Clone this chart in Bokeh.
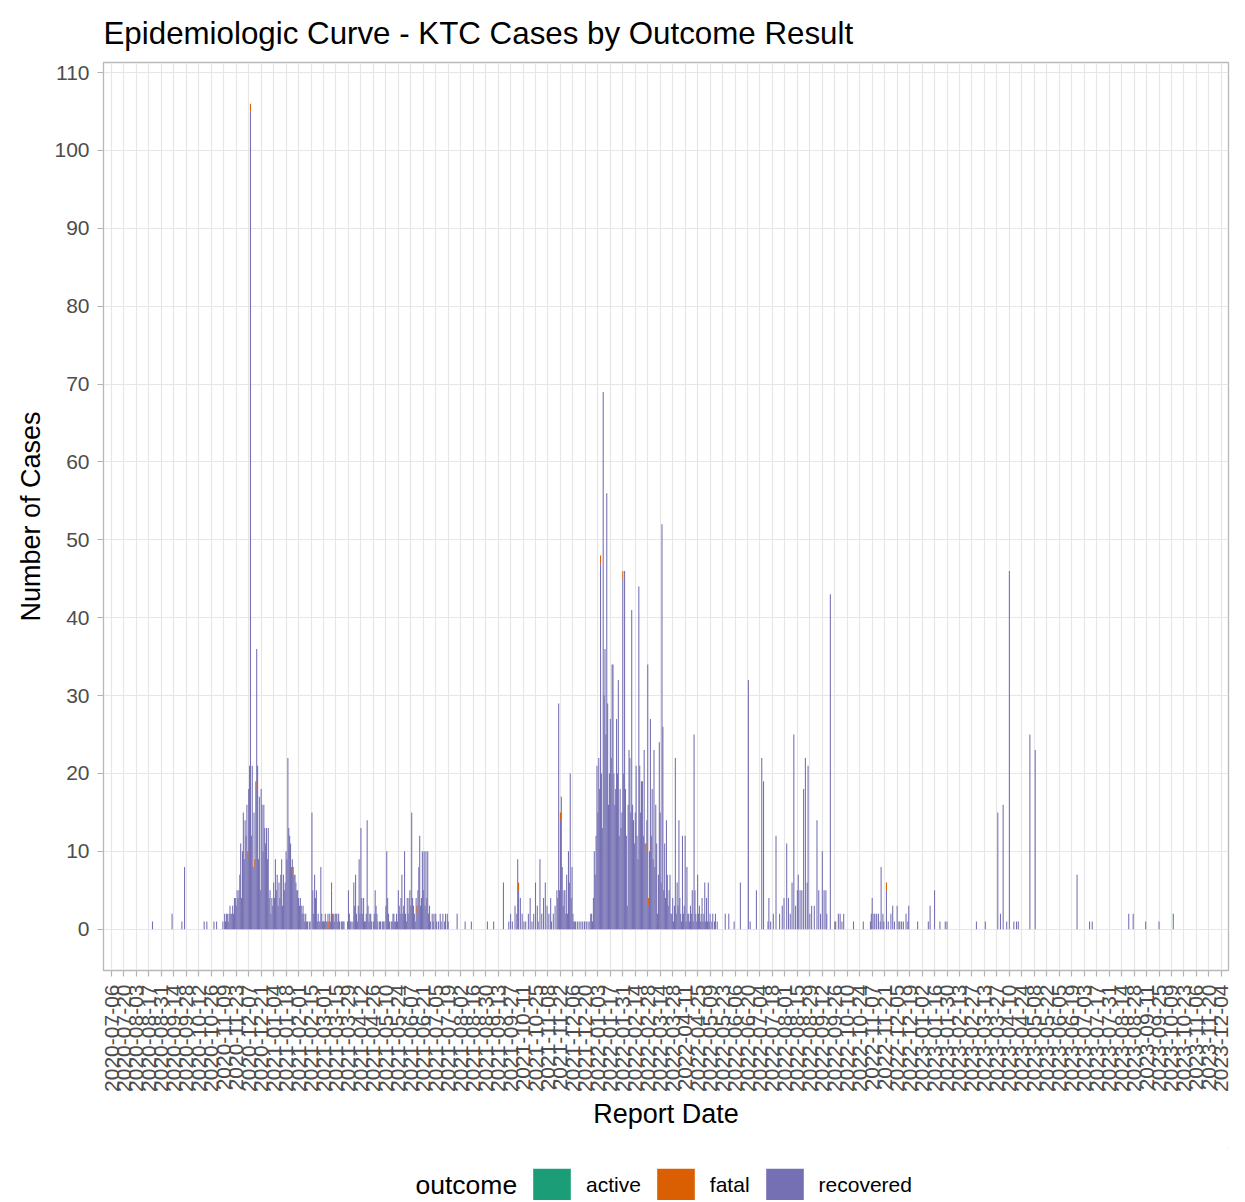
import math
import pandas as pd
from bokeh.plotting import figure
from bokeh.layouts import column
from bokeh.models import (ColumnDataSource, FixedTicker, DatetimeTickFormatter,
                          Legend, LegendItem, Range1d, Label)
from bokeh.embed import file_html
from bokeh.resources import INLINE

# ---------------- data ----------------
title_text = "Epidemiologic Curve - KTC Cases by Outcome Result"
legend_title = "outcome"
outcomes = ["active", "fatal", "recovered"]
outcome_colors = ["#1B9E77", "#D95F02", "#7570B3"]

early_dates = ["2020-08-21", "2020-09-12", "2020-09-23", "2020-09-26",
               "2020-10-18", "2020-10-21", "2020-10-29", "2020-11-01"]
early_recovered = [1, 2, 1, 8, 1, 1, 1, 1]

wave1_start = "2020-11-08"
wave1_recovered = [
    1, 0, 2, 1, 2, 2, 1, 2, 3, 2,
    2, 3, 2, 4, 4, 3, 5, 4, 5, 7,
    11, 3, 10, 15, 9, 14, 12, 16, 9, 18,
    21, 105, 12, 21, 8, 15, 8, 18, 36, 21,
    9, 17, 5, 18, 16, 10, 16, 13, 11, 13,
    9, 13, 4, 5, 2, 4, 3, 6, 4, 9,
    5, 7, 3, 6, 4, 7, 9, 3, 7, 5,
    6, 10, 9, 22, 13, 12, 11, 8, 9, 7,
    7, 7, 6, 5, 5, 4, 3, 4, 3, 2,
    3, 2, 1, 2, 1, 1, 0, 1, 1, 0,
    15, 5, 2, 7, 4, 5, 1, 2, 1, 1,
    8, 2, 1, 1, 1, 2, 1, 1, 2, 0,
    2, 1, 5, 2, 1, 1, 2, 2, 2, 1,
    2, 1, 0, 1, 1, 1, 1, 0, 0, 0,
    1, 5, 2, 1, 1, 0, 1, 6, 3, 7,
    2, 1, 3, 9, 2, 13, 4, 2, 4, 1,
    1, 2, 14, 3, 1, 2, 2, 1, 0, 1,
    2, 5, 3, 2, 1, 0, 1, 1, 0, 1,
    1, 1, 0, 3, 10, 4, 2, 1, 0, 1,
    1, 2, 2, 1, 1, 2, 1, 5, 3, 2,
    4, 7, 2, 3, 10, 2, 1, 4, 2, 4,
    5, 3, 15, 4, 3, 2, 1, 4, 2, 5,
    8, 12, 3, 4, 10, 5, 10, 3, 10, 4,
    10, 2, 3, 1, 0, 2, 1, 2, 0, 2,
    1, 0, 1, 0, 2, 1, 0, 2, 0, 1,
    2, 0, 2, 1, 0, 0,
]

mid_dates = ["2021-07-29", "2021-08-07", "2021-08-14"]
mid_recovered = [2, 1, 1]

wave2_start = "2021-08-30"
wave2_recovered = [
    0, 0, 1, 0, 0, 0, 0, 0, 0, 1,
    0, 0, 0, 0, 0, 0, 0, 0, 0, 0,
    6, 0, 0, 0, 0, 0, 1, 0, 2, 0,
    1, 0, 0, 3, 0, 2, 9, 5, 0, 4,
    0, 2, 0, 1, 0, 1, 0, 0, 2, 0,
    4, 0, 1, 0, 2, 0, 6, 0, 3, 1,
    0, 9, 0, 2, 0, 4, 0, 6, 0, 3,
    0, 2, 0, 4, 1, 0, 2, 0, 3, 0,
    5, 4, 29, 5, 14, 17, 8, 3, 5, 5,
    2, 7, 2, 10, 6, 20, 4, 8, 2, 1,
    1, 1, 0, 1, 0, 1, 0, 1, 0, 1,
    0, 1, 0, 1, 0, 1, 0, 1, 2, 2,
    1, 4, 10, 7, 12, 21, 15, 22, 18, 47,
    20, 13, 69, 30, 36, 25, 56, 29, 16, 20,
    27, 22, 34, 34, 20, 16, 18, 27, 20, 32,
    12, 18, 13, 15, 45, 20, 46, 18, 12, 3,
    16, 23, 22, 15, 41, 16, 14, 11, 15, 21,
    12, 9, 44, 21, 15, 19, 19, 12, 23, 11,
    10, 14, 34, 3, 10, 27, 12, 18, 9, 23,
    8, 16, 11, 1, 7, 24, 15, 6, 52, 26,
    5, 11, 4, 14, 7, 3, 5, 7, 2, 2,
    4, 1, 3, 22, 2, 6, 3, 14, 4, 2,
    1, 12, 2, 3, 12, 1, 8, 2, 2, 1,
    3, 2, 5, 1, 25, 5, 2, 1, 6, 2,
    3, 1, 2, 4, 1, 2, 6, 1, 4, 1,
    6, 1, 2, 0, 1, 2, 0, 1, 2, 0,
    1, 0, 0, 0, 0, 0, 0, 0, 0, 2,
    0, 0, 0, 2, 0, 0, 0, 0, 0, 1,
    0,
]

late_dates = [
    "2022-06-12", "2022-06-21", "2022-06-23", "2022-06-30", "2022-07-06",
    "2022-07-08", "2022-07-13", "2022-07-14", "2022-07-16", "2022-07-19",
    "2022-07-22", "2022-07-26", "2022-07-29", "2022-07-31", "2022-08-03",
    "2022-08-05", "2022-08-07", "2022-08-09", "2022-08-11", "2022-08-13",
    "2022-08-15", "2022-08-16", "2022-08-18", "2022-08-20", "2022-08-22",
    "2022-08-24", "2022-08-26", "2022-08-27", "2022-08-29", "2022-08-31",
    "2022-09-03", "2022-09-06", "2022-09-08", "2022-09-10", "2022-09-12",
    "2022-09-14", "2022-09-16", "2022-09-17", "2022-09-21", "2022-09-26",
    "2022-09-30", "2022-10-02", "2022-10-04", "2022-10-06", "2022-10-17",
    "2022-10-28", "2022-11-05", "2022-11-06", "2022-11-07", "2022-11-09",
    "2022-11-10", "2022-11-12", "2022-11-14", "2022-11-16", "2022-11-17",
    "2022-11-19", "2022-11-20", "2022-11-23", "2022-11-25", "2022-11-28",
    "2022-11-30", "2022-12-02", "2022-12-05", "2022-12-07", "2022-12-08",
    "2022-12-10", "2022-12-12", "2022-12-15", "2022-12-17", "2022-12-18",
    "2022-12-28", "2023-01-09", "2023-01-11", "2023-01-16", "2023-01-22",
    "2023-01-28", "2023-01-30", "2023-03-04", "2023-03-14", "2023-03-28",
    "2023-03-31", "2023-04-03", "2023-04-07", "2023-04-10", "2023-04-15",
    "2023-04-18", "2023-04-20", "2023-05-03", "2023-05-09", "2023-06-25",
    "2023-07-09", "2023-07-12", "2023-08-22", "2023-08-27", "2023-09-10",
    "2023-09-25", "2023-10-11",
]
late_recovered = [
    6, 32, 1, 5, 22,
    19, 1, 4, 1, 2,
    12, 2, 3, 4, 11,
    4, 2, 6, 25, 3,
    5, 7, 5, 5, 18,
    22, 6, 21, 2, 3,
    3, 14, 5, 2, 10,
    5, 5, 2, 43, 1,
    2, 2, 1, 2, 1,
    1, 1, 2, 4, 2,
    2, 2, 2, 1, 8,
    2, 1, 5, 1, 2,
    3, 1, 3, 1, 1,
    1, 1, 2, 1, 3,
    1, 1, 3, 5, 1,
    1, 1, 1, 1, 15,
    2, 16, 1, 46, 1,
    1, 1, 25, 23, 7,
    1, 1, 2, 2, 1,
    1, 1,
]

fatal_dates = [
    "2020-11-29", "2020-12-06", "2020-12-09", "2020-12-14", "2020-12-15",
    "2021-01-26", "2021-03-07", "2021-03-10", "2021-03-12", "2021-06-14",
    "2021-10-06", "2021-11-22", "2022-01-06", "2022-01-31", "2022-02-26",
    "2022-03-01", "2022-03-11", "2022-04-25", "2022-09-27", "2022-11-23",
]
fatal_counts = [1, 1, 1, 1, 1, 1, 1, 1, 1, 1,
                1, 1, 1, 1, 1, 1, 1, 1, 1, 1]

active_dates = ["2023-10-11"]
active_counts = [1]

y_ticks = [0, 10, 20, 30, 40, 50, 60, 70, 80, 90, 100, 110]
x_tick_first = "2020-07-06"
x_tick_last = "2023-12-04"

# ---------------- assemble daily table ----------------
table = {}


def add(day, col, n):
    ts = pd.Timestamp(day)
    if ts not in table:
        table[ts] = {"active": 0, "fatal": 0, "recovered": 0}
    table[ts][col] += n


for d, n in zip(early_dates, early_recovered):
    add(d, "recovered", n)
for i, n in enumerate(wave1_recovered):
    add(pd.Timestamp(wave1_start) + pd.Timedelta(days=i), "recovered", n)
for d, n in zip(mid_dates, mid_recovered):
    add(d, "recovered", n)
for i, n in enumerate(wave2_recovered):
    add(pd.Timestamp(wave2_start) + pd.Timedelta(days=i), "recovered", n)
for d, n in zip(late_dates, late_recovered):
    add(d, "recovered", n)
for d, n in zip(fatal_dates, fatal_counts):
    add(d, "fatal", n)
for d, n in zip(active_dates, active_counts):
    add(d, "active", n)

df = pd.DataFrame.from_dict(table, orient="index").sort_index()
df = df[(df["active"] + df["fatal"] + df["recovered"]) > 0]
df["date"] = df.index
source = ColumnDataSource(df.reset_index(drop=True))

DAY_MS = 86400000
ticks = [t.value / 1e6 for t in pd.date_range(x_tick_first, x_tick_last, freq="14D")]

# ---------------- main figure ----------------
FONT = "Liberation Sans"
p = figure(
    frame_width=1125, frame_height=908,
    min_border_left=103, min_border_right=17, min_border_top=62, min_border_bottom=178,
    x_axis_type="datetime",
    x_range=Range1d(pd.Timestamp("2020-06-27"), pd.Timestamp("2023-12-12")),
    y_range=Range1d(-5.3, 111.3),
    output_backend="svg", toolbar_location=None,
    background_fill_color="white", border_fill_color="white",
)
p.title.text = title_text
p.title.text_font = FONT
p.title.text_font_size = "31.3px"
p.title.text_font_style = "normal"
p.title.text_color = "black"
p.title.align = "left"
p.title.standoff = 24

renderers = p.vbar_stack(
    ["recovered", "fatal", "active"], x="date", width=1.2 * DAY_MS,
    fill_color=[outcome_colors[2], outcome_colors[1], outcome_colors[0]],
    fill_alpha=1.0, line_color=None, source=source,
)

p.outline_line_color = "#B8B8B8"
p.outline_line_width = 1.3

xa = p.xaxis[0]
xa.ticker = FixedTicker(ticks=ticks)
xa.formatter = DatetimeTickFormatter(
    days="%Y-%m-%d", months="%Y-%m-%d", years="%Y-%m-%d",
    hours="%Y-%m-%d", hourmin="%Y-%m-%d")
xa.major_label_orientation = math.pi / 2
xa.axis_label = "Report Date"

ya = p.yaxis[0]
ya.ticker = FixedTicker(ticks=y_ticks)
ya.axis_label = "Number of Cases"

for ax in (xa, ya):
    ax.axis_line_color = None
    ax.major_tick_line_color = "#B3B3B3"
    ax.major_tick_line_width = 1.2
    ax.major_tick_out = 6
    ax.major_tick_in = 0
    ax.minor_tick_line_color = None
    ax.major_label_text_font = FONT
    ax.major_label_text_font_size = "21px"
    ax.major_label_text_color = "#4D4D4D"
    ax.major_label_standoff = 8
    ax.axis_label_text_font = FONT
    ax.axis_label_text_font_size = "27px"
    ax.axis_label_text_font_style = "normal"
    ax.axis_label_text_color = "black"
ya.axis_label_standoff = 5
xa.axis_label_standoff = 4

p.xgrid.grid_line_color = "#E6E6E6"
p.xgrid.grid_line_width = 1.2
p.ygrid.grid_line_color = "#E6E6E6"
p.ygrid.grid_line_width = 1.2

# ---------------- legend strip ----------------
# (its frame is aligned with the main plot's frame by the column layout)
leg = figure(
    width=1245, height=52, x_range=Range1d(0, 1), y_range=Range1d(0, 1),
    x_axis_location=None, y_axis_location=None,
    min_border_left=0, min_border_right=0, min_border_top=0, min_border_bottom=0,
    output_backend="svg", toolbar_location=None,
    background_fill_color="white", border_fill_color="white",
)
leg.grid.visible = False
leg.outline_line_color = None
# key glyph holders: one bar each, placed outside the strip's visible range
key_renderers = [leg.vbar(x=[5], top=[5], bottom=[4], width=0.1,
                          fill_color=c, line_color=None)
                 for c in outcome_colors]

legend = Legend(
    items=[LegendItem(label=lbl, renderers=[r]) for lbl, r in zip(outcomes, key_renderers)],
    orientation="horizontal",
    label_text_font=FONT, label_text_font_size="21px", label_text_color="black",
    label_standoff=11, spacing=11, glyph_width=47, glyph_height=42,
    border_line_color=None, background_fill_alpha=0,
    padding=0, margin=0, location=(425, -6),
)
leg.add_layout(legend, "center")
leg.add_layout(Label(
    x=312, y=16, x_units="screen", y_units="screen", text=legend_title,
    text_font=FONT, text_font_size="26.5px", text_color="black",
    text_baseline="middle", text_align="left",
))

layout = column(p, leg, spacing=0)
open("out.html", "w").write(file_html(layout, INLINE))
